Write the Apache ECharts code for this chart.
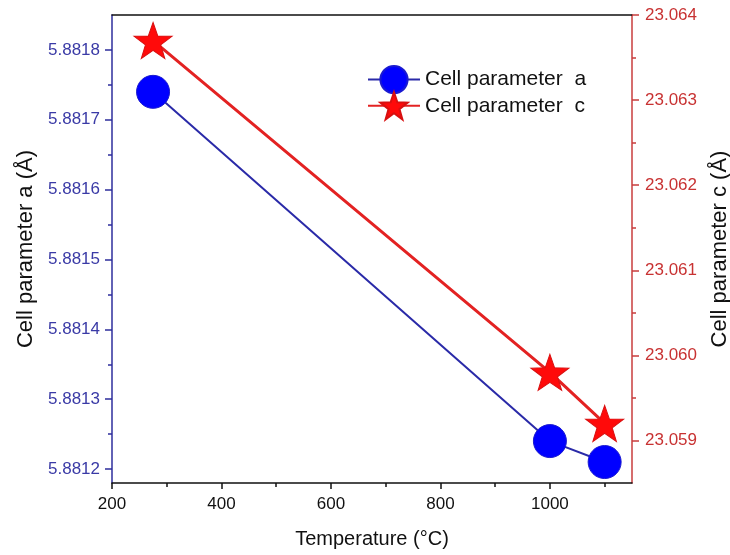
<!DOCTYPE html>
<html>
<head>
<meta charset="utf-8">
<script src="https://cdn.jsdelivr.net/npm/echarts@6/dist/echarts.min.js"></script>
<style>
  html, body { margin: 0; padding: 0; background: #fff; }
  #chart { width: 730px; height: 555px; }
</style>
</head>
<body>
<div id="chart"></div>
<script>
// Lattice parameters versus annealing temperature
const temperatures = [275, 1000, 1100];
const paramA = [5.88174, 5.88124, 5.88121];
const paramC = [23.0637, 23.0598, 23.0592];

const nameA = 'Cell parameter  a';
const nameC = 'Cell parameter  c';

// tick positions
const xMajor = [200, 400, 600, 800, 1000];
const xMinor = [300, 500, 700, 900, 1100];
const aMajor = [5.8812, 5.8813, 5.8814, 5.8815, 5.8816, 5.8817, 5.8818];
const aMinor = [5.88125, 5.88135, 5.88145, 5.88155, 5.88165, 5.88175];
const cMajor = [23.059, 23.060, 23.061, 23.062, 23.063, 23.064];
const cMinor = [23.0595, 23.0605, 23.0615, 23.0625, 23.0635];

const FONT = 'Arial, "Liberation Sans", sans-serif';
const BLUE_AXIS = '#2e2e9c';
const RED_AXIS = '#c83c3c';

const xRange = { min: 200, max: 1150 };
const aRange = { min: 5.88118, max: 5.88185 };
const cRange = { min: 23.0585, max: 23.064 };

const chart = echarts.init(document.getElementById('chart'), null, { renderer: 'canvas' });

const hiddenAxisParts = {
  axisLine: { show: false },
  axisLabel: { show: false },
  splitLine: { show: false }
};

chart.setOption({
  animation: false,
  backgroundColor: '#ffffff',
  grid: { left: 112, right: 98, top: 15, bottom: 72, containLabel: false, outerBoundsMode: 'none' },
  legend: {
    orient: 'vertical',
    left: 362,
    top: 60,
    itemWidth: 52,
    itemHeight: 34,
    itemGap: -3,
    textStyle: { fontFamily: FONT, fontSize: 21, color: '#111' },
    data: [nameA, nameC]
  },
  xAxis: [
    {
      type: 'value',
      position: 'bottom',
      min: xRange.min, max: xRange.max,
      name: 'Temperature (°C)',
      nameLocation: 'middle',
      nameGap: 46,
      nameTextStyle: { fontFamily: FONT, fontSize: 20, color: '#111' },
      axisLine: { show: true, lineStyle: { color: '#111', width: 1.5 } },
      axisTick: { show: true, inside: false, length: 6, customValues: xMajor, lineStyle: { color: '#111', width: 1.5 } },
      axisLabel: {
        customValues: xMajor, margin: 13, fontFamily: FONT, fontSize: 17, color: '#111',
        formatter: v => String(v)
      },
      splitLine: { show: false }
    },
    {
      type: 'value',
      position: 'top',
      min: xRange.min, max: xRange.max,
      axisLine: { show: true, lineStyle: { color: '#111', width: 1.5 } },
      axisTick: { show: false },
      axisLabel: { show: false },
      splitLine: { show: false }
    },
    {
      type: 'value',
      position: 'bottom',
      min: xRange.min, max: xRange.max,
      ...hiddenAxisParts,
      axisTick: { show: true, length: 4, customValues: xMinor, lineStyle: { color: '#111', width: 1.5 } }
    }
  ],
  yAxis: [
    {
      type: 'value',
      position: 'left',
      min: aRange.min, max: aRange.max,
      name: 'Cell parameter a (Å)',
      nameLocation: 'middle',
      nameRotate: 90,
      nameGap: 70,
      nameTextStyle: { fontFamily: FONT, fontSize: 22, color: '#111' },
      axisLine: { show: true, lineStyle: { color: BLUE_AXIS, width: 1.5 } },
      axisTick: { show: true, length: 7, customValues: aMajor, lineStyle: { color: BLUE_AXIS, width: 1.5 } },
      axisLabel: {
        customValues: aMajor, margin: 12, fontFamily: FONT, fontSize: 17, color: '#3a3aa6',
        formatter: v => v.toFixed(4)
      },
      splitLine: { show: false }
    },
    {
      type: 'value',
      position: 'right',
      min: cRange.min, max: cRange.max,
      name: 'Cell parameter c (Å)',
      nameLocation: 'middle',
      nameRotate: 90,
      nameGap: 77,
      nameTextStyle: { fontFamily: FONT, fontSize: 22, color: '#111' },
      axisLine: { show: true, lineStyle: { color: RED_AXIS, width: 1.5 } },
      axisTick: { show: true, length: 7, customValues: cMajor, lineStyle: { color: RED_AXIS, width: 1.5 } },
      axisLabel: {
        customValues: cMajor, margin: 13, fontFamily: FONT, fontSize: 17, color: '#c83232',
        formatter: v => v.toFixed(3)
      },
      splitLine: { show: false }
    },
    {
      type: 'value',
      position: 'left',
      min: aRange.min, max: aRange.max,
      ...hiddenAxisParts,
      axisTick: { show: true, length: 4, customValues: aMinor, lineStyle: { color: BLUE_AXIS, width: 1.5 } }
    },
    {
      type: 'value',
      position: 'right',
      min: cRange.min, max: cRange.max,
      ...hiddenAxisParts,
      axisTick: { show: true, length: 4, customValues: cMinor, lineStyle: { color: RED_AXIS, width: 1.5 } }
    }
  ],
  series: [
    {
      name: nameA,
      type: 'line',
      xAxisIndex: 0,
      yAxisIndex: 0,
      data: temperatures.map((t, i) => [t, paramA[i]]),
      symbol: 'circle',
      symbolSize: 33,
      lineStyle: { color: '#2a2aa8', width: 2 },
      itemStyle: { color: '#0000ff', borderColor: '#1a1ad0', borderWidth: 1 },
      z: 2
    },
    {
      name: nameC,
      type: 'line',
      xAxisIndex: 0,
      yAxisIndex: 1,
      data: temperatures.map((t, i) => [t, paramC[i]]),
      symbol: 'path://M0,-10 L2.35,-3.24 L9.51,-3.09 L3.8,1.24 L5.88,8.09 L0,4 L-5.88,8.09 L-3.8,1.24 L-9.51,-3.09 L-2.35,-3.24 Z',
      symbolSize: [38, 36],
      lineStyle: { color: '#e32222', width: 3 },
      itemStyle: { color: '#ff0a0a', borderColor: '#d81010', borderWidth: 1 },
      z: 3
    }
  ]
});
</script>
</body>
</html>
